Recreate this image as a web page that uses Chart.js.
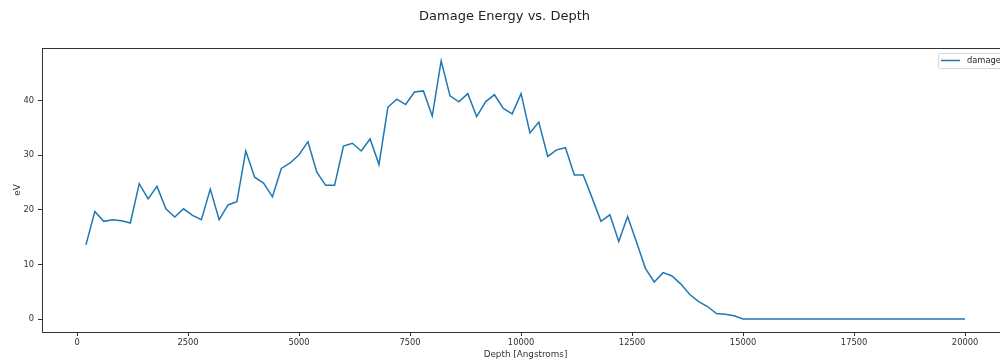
<!DOCTYPE html>
<html>
<head>
<meta charset="utf-8">
<script src="https://cdn.jsdelivr.net/npm/chart.js@4"></script>
<style>
  html, body { margin: 0; padding: 0; background: #fff; overflow: hidden; }
  #wrap { width: 1000px; height: 360px; overflow: hidden; }
</style>
</head>
<body>
<div id="wrap"><canvas id="chart" width="1020" height="360"></canvas></div>
<script>
// depth of each bin, Angstroms
const depths = [
  200, 400, 600, 800, 1000, 1200, 1400, 1600, 1800, 2000,
  2200, 2400, 2600, 2800, 3000, 3200, 3400, 3600, 3800, 4000,
  4200, 4400, 4600, 4800, 5000, 5200, 5400, 5600, 5800, 6000,
  6200, 6400, 6600, 6800, 7000, 7200, 7400, 7600, 7800, 8000,
  8200, 8400, 8600, 8800, 9000, 9200, 9400, 9600, 9800, 10000,
  10200, 10400, 10600, 10800, 11000, 11200, 11400, 11600, 11800, 12000,
  12200, 12400, 12600, 12800, 13000, 13200, 13400, 13600, 13800, 14000,
  14200, 14400, 14600, 14800, 15000, 15200, 15400, 15600, 15800, 16000,
  16200, 16400, 16600, 16800, 17000, 17200, 17400, 17600, 17800, 18000,
  18200, 18400, 18600, 18800, 19000, 19200, 19400, 19600, 19800, 20000
];

// damage energy per bin, eV
const damage = [
  13.6, 19.7, 17.9, 18.2, 18.0, 17.6, 24.8, 22.0, 24.3, 20.2,
  18.7, 20.2, 19.0, 18.2, 23.8, 18.2, 20.9, 21.5, 30.8, 26.0,
  24.9, 22.4, 27.6, 28.6, 30.1, 32.5, 26.9, 24.5, 24.5, 31.7,
  32.2, 30.8, 33.0, 28.3, 38.8, 40.3, 39.3, 41.6, 41.8, 37.2,
  47.3, 40.9, 39.8, 41.3, 37.1, 39.8, 41.1, 38.6, 37.6, 41.3,
  34.1, 36.1, 29.8, 31.0, 31.4, 26.4, 26.4, 22.2, 17.9, 19.1,
  14.2, 18.8, 14.1, 9.3, 6.8, 8.5, 7.9, 6.4, 4.5, 3.2,
  2.3, 1.0, 0.9, 0.6, 0, 0, 0, 0, 0, 0,
  0, 0, 0, 0, 0, 0, 0, 0, 0, 0,
  0, 0, 0, 0, 0, 0, 0, 0, 0, 0
];

const xTicks = [0, 2500, 5000, 7500, 10000, 12500, 15000, 17500, 20000];
const yTicks = [0, 10, 20, 30, 40];

const FONT = 'DejaVu Sans';
const SMALL = 8.3;
const LINE = '#1f77b4';

// box around the axes + legend in the top-right corner
const frame = {
  id: 'frame',
  afterDraw(c) {
    const { ctx, chartArea: a } = c;
    ctx.save();
    ctx.strokeStyle = '#333';
    ctx.lineWidth = 1;
    ctx.strokeRect(a.left + 0.5, a.top + 0.5, a.right - a.left, a.bottom - a.top);

    const bx = 938, by = a.top + 5, bw = 68, bh = 15;
    ctx.fillStyle = 'rgba(255,255,255,0.8)';
    ctx.strokeStyle = '#d6d6d6';
    ctx.beginPath();
    ctx.roundRect(bx + 0.5, by + 0.5, bw, bh, 2);
    ctx.fill();
    ctx.stroke();
    ctx.strokeStyle = LINE;
    ctx.lineWidth = 1.5;
    ctx.beginPath();
    ctx.moveTo(bx + 3, by + 7.5);
    ctx.lineTo(bx + 22, by + 7.5);
    ctx.stroke();
    ctx.fillStyle = '#262626';
    ctx.font = `${SMALL}px "${FONT}"`;
    ctx.textBaseline = 'middle';
    ctx.fillText('damage', bx + 29, by + 8);
    ctx.restore();
  }
};

new Chart(document.getElementById('chart'), {
  type: 'line',
  data: {
    datasets: [{
      label: 'damage',
      data: depths.map((d, i) => ({ x: d, y: damage[i] })),
      borderColor: LINE,
      borderWidth: 1.5,
      pointRadius: 0,
      tension: 0,
      fill: false
    }]
  },
  options: {
    responsive: false,
    animation: false,
    layout: { padding: { left: 0, right: 11, top: 0, bottom: 0 } },
    plugins: {
      legend: { display: false },
      tooltip: { enabled: false },
      title: {
        display: true,
        text: 'Damage Energy vs. Depth',
        color: '#222',
        font: { family: FONT, size: 13, weight: 'normal' },
        padding: { top: 9, bottom: 23.4 }
      }
    },
    scales: {
      x: {
        type: 'linear',
        min: -790,
        max: 20990,
        afterBuildTicks: s => { s.ticks = xTicks.map(v => ({ value: v })); },
        afterFit: s => { s.height = 28; },
        grid: { drawOnChartArea: false, tickLength: 4, color: '#333' },
        border: { color: '#333' },
        ticks: {
          color: '#333', font: { family: FONT, size: SMALL }, padding: 2, maxRotation: 0,
          callback: v => String(v)
        },
        title: {
          display: true, text: 'Depth [Angstroms]', color: '#333',
          font: { family: FONT, size: 8.8 }, padding: { top: 1, bottom: 0 }
        }
      },
      y: {
        min: -2.37,
        max: 49.66,
        afterBuildTicks: s => { s.ticks = yTicks.map(v => ({ value: v })); },
        afterFit: s => { s.width = 42; },
        grid: { drawOnChartArea: false, tickLength: 4, color: '#333' },
        border: { color: '#333' },
        ticks: {
          color: '#333', font: { family: FONT, size: SMALL }, padding: 4,
          callback: v => String(v)
        },
        title: {
          display: true, text: 'eV', color: '#333',
          font: { family: FONT, size: 8.8 }, padding: { top: 12, bottom: 0 }
        }
      }
    }
  },
  plugins: [frame]
});
</script>
</body>
</html>
